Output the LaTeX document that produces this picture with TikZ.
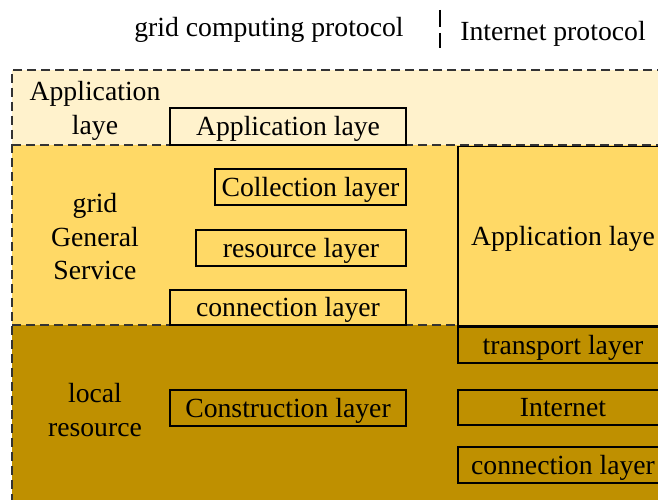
\documentclass[tikz,border=0pt]{standalone}
\usepackage{fontspec}
\setmainfont{Liberation Serif}
\definecolor{appband}{HTML}{FFF2CC}
\definecolor{gridband}{HTML}{FFD966}
\definecolor{localband}{HTML}{BF9000}

\begin{document}
\begin{tikzpicture}[x=1pt,y=-1pt,
  lbl/.style={align=center,font=\fontsize{27.7}{33.5}\selectfont},
  layerbox/.style={draw=black,line width=1.1pt,inner sep=0pt,
    text height=20pt,text depth=2pt,
    font=\fontsize{27.7}{33.5}\selectfont},
  bandline/.style={draw=black!80,line width=1.1pt,dash pattern=on 9pt off 5pt}]

\clip (0,0) rectangle (658,500);

% bands
\fill[appband] (12,70) rectangle (680,145);
\fill[gridband] (12,145) rectangle (680,325);
\fill[localband] (12,325) rectangle (680,520);
\draw[bandline] (680,70) -- (12,70) -- (12,520);
\draw[bandline] (12,145) -- (680,145);
\draw[bandline] (12,325) -- (458,325);

% headings
\node[lbl] (gridtitle) at (269,30) {grid computing protocol};
\node[lbl] (nettitle) at (553,34) {Internet protocol};
\coordinate (sepA) at (440,10);
\coordinate (sepB) at (440,48);
\draw[line width=1.3pt,dash pattern=on 17pt off 6pt] (sepA) -- (sepB);

% left labels
\node[lbl] (applbl) at (95,111) {Application\\laye};
\node[lbl] (gridlbl) at (95,237) {grid\\General\\Service};
\node[lbl] (locallbl) at (95,410) {local\\resource};

% grid layers
\node[layerbox,minimum width=236pt,minimum height=37pt] (gapp) at (288,126.5) {Application laye};
\node[layerbox,minimum width=191pt,minimum height=36pt] (gcoll) at (310.5,187) {Collection layer};
\node[layerbox,minimum width=210pt,minimum height=36pt] (gres) at (301,248) {resource layer};
\node[layerbox,minimum width=236pt,minimum height=35pt] (gconn) at (288,307.5) {connection layer};
\node[layerbox,minimum width=236pt,minimum height=36pt] (gcons) at (288,408) {Construction layer};

% internet layers
\node[layerbox,fill=gridband,minimum width=210pt,minimum height=179pt] (iapp) at (563,236) {Application laye};
\node[layerbox,minimum width=210pt,minimum height=36pt] (itrans) at (563,345) {transport layer};
\node[layerbox,minimum width=210pt,minimum height=35pt] (inet) at (563,407.5) {Internet};
\node[layerbox,minimum width=210pt,minimum height=36pt] (iconn) at (563,465) {connection layer};

\end{tikzpicture}
\end{document}
